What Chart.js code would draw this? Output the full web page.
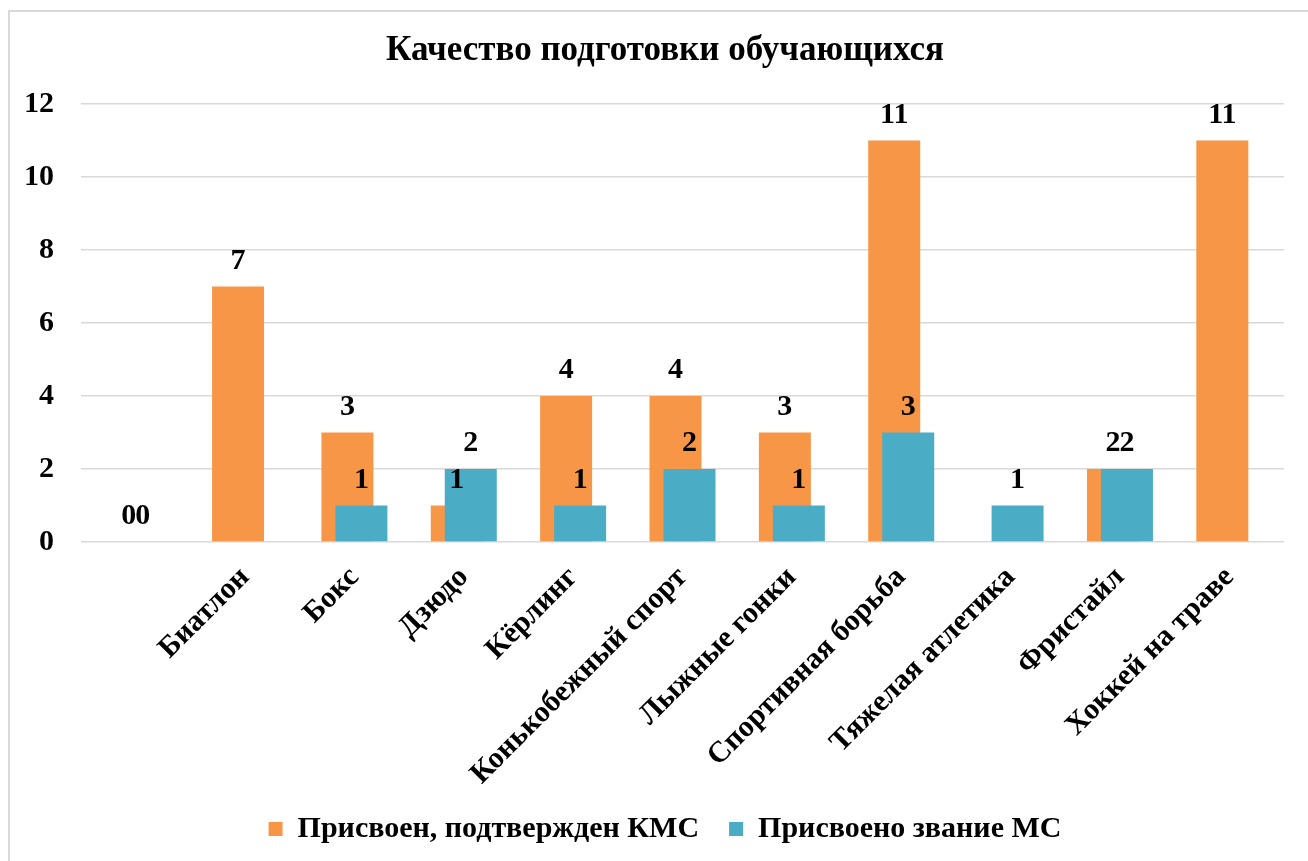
<!DOCTYPE html>
<html lang="ru">
<head>
<meta charset="utf-8">
<title>Качество подготовки обучающихся</title>
<script src="https://cdn.jsdelivr.net/npm/chart.js@4.4.1/dist/chart.umd.min.js"></script>
<style>
  html, body { margin: 0; padding: 0; background: #fff; overflow: hidden; }
  #frame {
    position: absolute; left: 8px; top: 10px;
    width: 1298px; height: 849px;
    border-left: 2px solid #d9d9d9; border-top: 2px solid #d9d9d9;
  }
</style>
</head>
<body>
<div id="frame"><canvas id="chart"></canvas></div>
<script>
// ===== DATA =====
const categories = ["", "Биатлон", "Бокс", "Дзюдо", "Кёрлинг", "Конькобежный спорт",
  "Лыжные гонки", "Спортивная борьба", "Тяжелая атлетика", "Фристайл", "Хоккей на траве"];
const kmsValues = [0, 7, 3, 1, 4, 4, 3, 11, null, 2, 11];
const msValues  = [0, null, 1, 2, 1, 2, 1, 3, 1, 2, null];
const seriesNames = ["Присвоен, подтвержден КМС", "Присвоено звание МС"];
const yTicks = [0, 2, 4, 6, 8, 10, 12];

const FONT = "'Liberation Serif', 'Times New Roman', serif";

// blue bars sit on top of orange ones (Excel overlap)
const drawOrder = {
  id: "drawOrder",
  beforeDatasetDraw(chart, args) {
    if (args.index === 1) return false;
  },
  afterDatasetDraw(chart, args) {
    if (args.index === 0) chart.getDatasetMeta(1).controller.draw();
  }
};

// value labels above bars
const valueLabels = {
  id: "valueLabels",
  afterDatasetsDraw(chart) {
    const ctx = chart.ctx;
    ctx.save();
    ctx.font = "bold 30px " + FONT;
    ctx.fillStyle = "#000";
    ctx.textAlign = "center";
    ctx.textBaseline = "alphabetic";
    chart.data.datasets.forEach((ds, di) => {
      const meta = chart.getDatasetMeta(di);
      ds.data.forEach((v, i) => {
        if (v === null) return;
        const el = meta.data[i];
        ctx.fillText(String(v), el.x, el.y - 18);
      });
    });
    ctx.restore();
  }
};

new Chart(document.getElementById("chart"), {
  type: "bar",
  data: {
    labels: categories,
    datasets: [
      { label: seriesNames[0], data: kmsValues, backgroundColor: "#F79646" },
      { label: seriesNames[1], data: msValues, backgroundColor: "#4BACC6" }
    ]
  },
  options: {
    responsive: true,
    maintainAspectRatio: false,
    animation: false,
    categoryPercentage: 0.256,
    barPercentage: 3.714,
    layout: { padding: { left: 12, right: 0, top: 0, bottom: 7 } },
    plugins: {
      title: {
        display: true,
        text: "Качество подготовки обучающихся",
        color: "#000",
        font: { family: FONT, size: 35, weight: "bold" },
        padding: { top: 18, bottom: 32 }
      },
      legend: {
        position: "bottom",
        labels: {
          color: "#000",
          font: { family: FONT, size: 30, weight: "bold" },
          boxWidth: 14,
          boxHeight: 14,
          padding: 30
        }
      },
      tooltip: { enabled: false }
    },
    scales: {
      x: {
        afterFit: (s) => { s.height = 242; },
        grid: { display: false },
        border: { display: false },
        ticks: {
          color: "#000",
          font: { family: FONT, size: 30, weight: "bold" },
          autoSkip: false,
          minRotation: 45,
          maxRotation: 45,
          padding: 10
        }
      },
      y: {
        min: 0,
        max: 12,
        afterFit: (s) => { s.width = 59; },
        afterBuildTicks: (s) => { s.ticks = yTicks.map(v => ({ value: v })); },
        grid: { color: "#d9d9d9", lineWidth: 1.5, drawTicks: false },
        border: { display: false },
        ticks: {
          color: "#000",
          font: { family: FONT, size: 30, weight: "bold" },
          padding: 27
        }
      },
      // empty right gutter so the legend can stay centred on the whole frame
      gutter: {
        type: "linear",
        position: "right",
        afterFit: (s) => { s.width = 24; },
        grid: { display: false },
        border: { display: false },
        ticks: { display: false }
      }
    }
  },
  plugins: [drawOrder, valueLabels]
});
</script>
</body>
</html>
